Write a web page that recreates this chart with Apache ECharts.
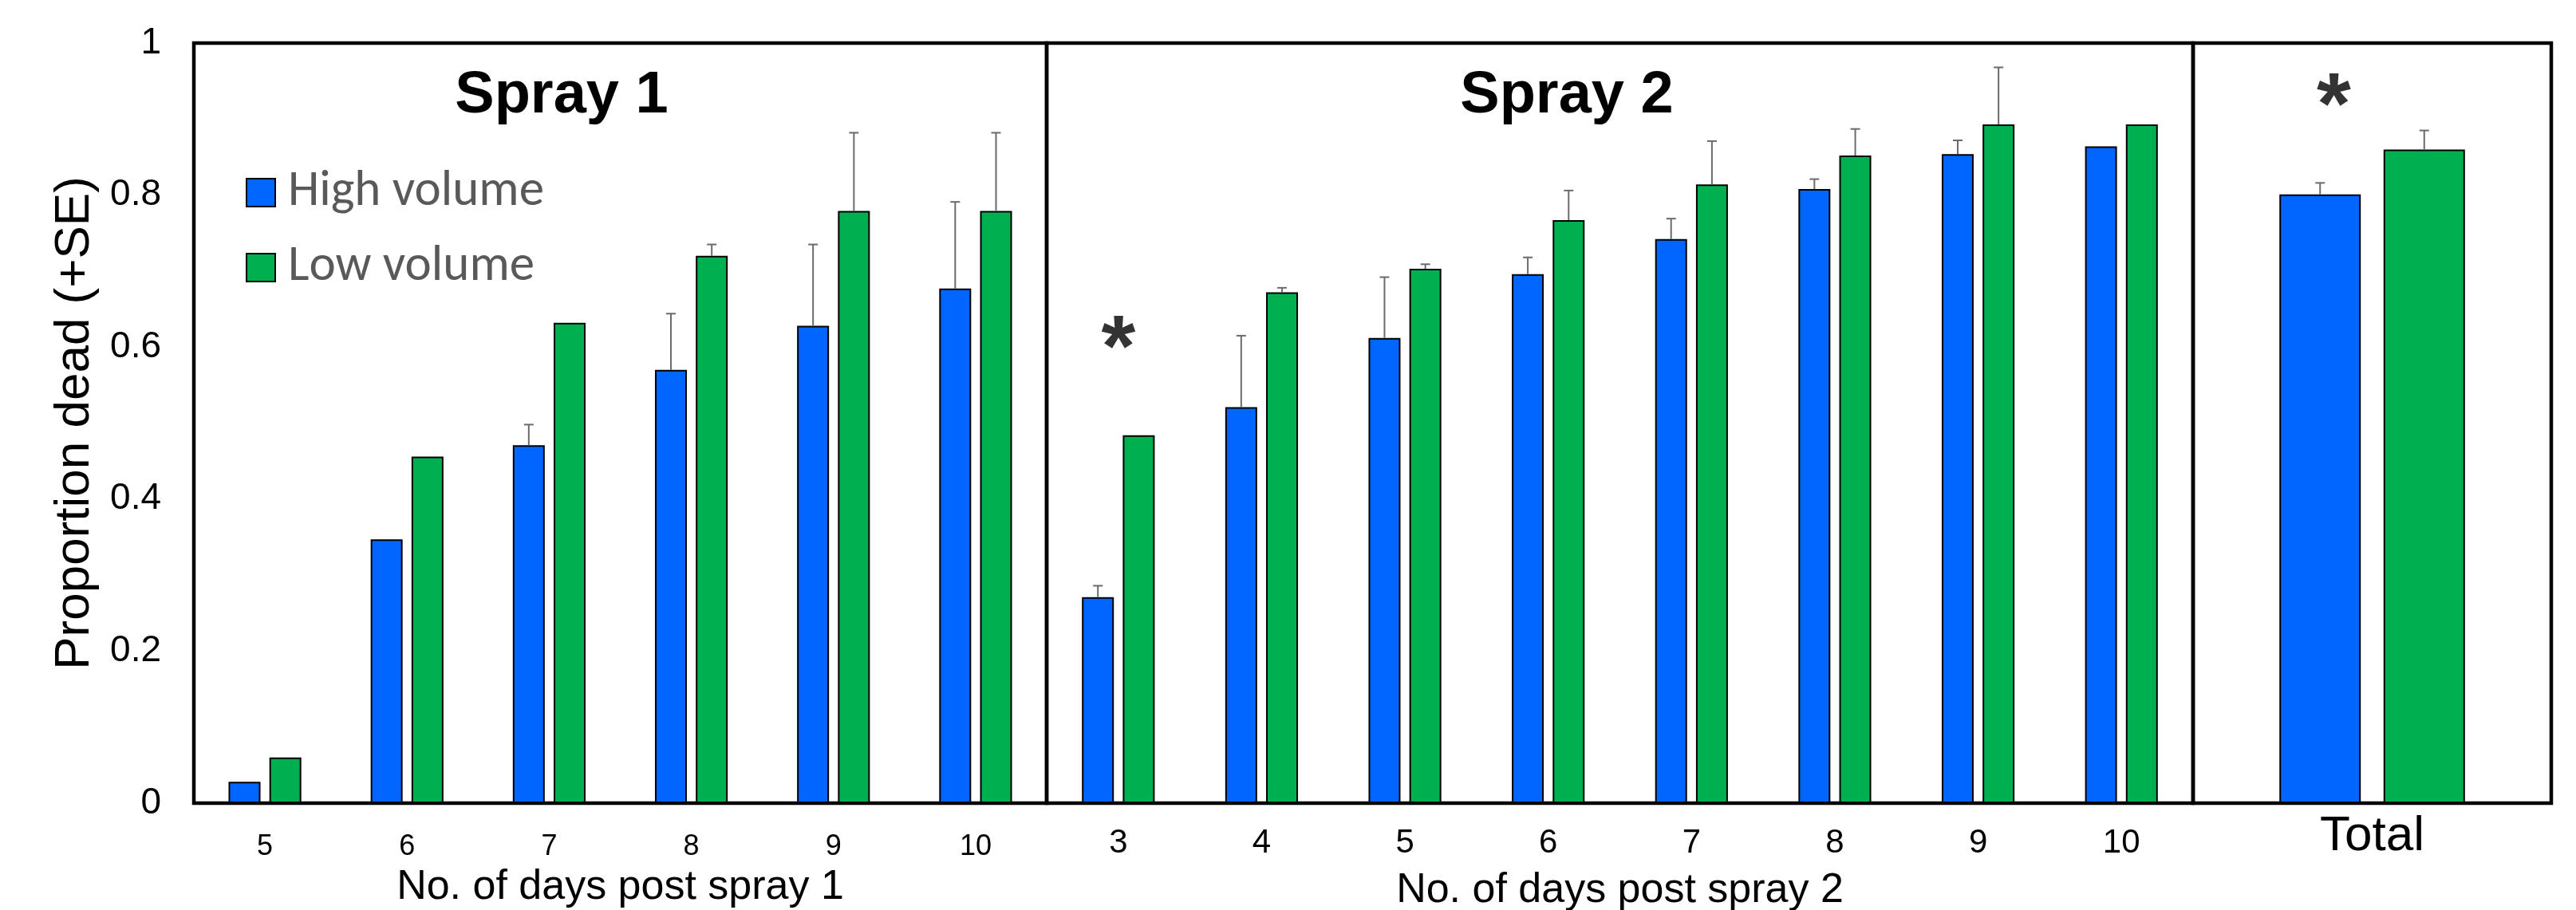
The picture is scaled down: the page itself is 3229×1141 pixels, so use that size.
<!DOCTYPE html>
<html>
<head>
<meta charset="utf-8">
<script src="https://cdn.jsdelivr.net/npm/echarts@6/dist/echarts.min.js"></script>
<style>
  html, body { margin: 0; padding: 0; background: #fff; }
  #chart { width: 3229px; height: 1141px; }
</style>
</head>
<body>
<div id="chart"></div>
<script>
// spray 1
const days1 = ['5', '6', '7', '8', '9', '10']
const high1 = [0.028, 0.347, 0.471, 0.570, 0.628, 0.677]
const low1 = [0.060, 0.456, 0.632, 0.720, 0.779, 0.779]
const high1Se = [0, 0, 0.027, 0.074, 0.107, 0.114]
const low1Se = [0, 0, 0, 0.015, 0.103, 0.103]

// spray 2
const days2 = ['3', '4', '5', '6', '7', '8', '9', '10']
const high2 = [0.271, 0.521, 0.612, 0.696, 0.742, 0.808, 0.854, 0.864]
const low2 = [0.484, 0.672, 0.703, 0.767, 0.814, 0.852, 0.893, 0.893]
const high2Se = [0.015, 0.094, 0.080, 0.022, 0.027, 0.013, 0.018, 0]
const low2Se = [0, 0.006, 0.006, 0.039, 0.057, 0.035, 0.075, 0]

// total
const totalCat = ['Total']
const highTotal = [0.801]
const lowTotal = [0.860]
const highTotalSe = [0.015]
const lowTotalSe = [0.025]

// significance marks
const stars2 = [['3', 0.594]]
const starsTotal = [['Total', 0.913]]

const BLUE = '#0066ff'
const GREEN = '#00b050'
const FONT = 'Liberation Sans, Arial, sans-serif'

const chart = echarts.init(document.getElementById('chart'), null, { renderer: 'canvas' })

// error bar drawn on top of a grouped bar (offset = shift from category centre)
const errorBars = (offset) => (params, api) => {
    const se = api.value(2)
    if (!se) return
    const base = api.coord([api.value(0), api.value(1)])
    const top = api.coord([api.value(0), api.value(1) + se])
    const x = base[0] + offset
    const style = { stroke: '#6b6b6b', lineWidth: 2 }
    return {
        type: 'group',
        children: [
            { type: 'line', shape: { x1: x, y1: base[1], x2: x, y2: top[1] }, style },
            { type: 'line', shape: { x1: x - 6, y1: top[1], x2: x + 6, y2: top[1] }, style }
        ]
    }
}

const toErr = (vals, se) => vals.map((v, i) => [i, v, se[i]])

const barStyle = (color) => ({ color, borderColor: '#000', borderWidth: 2 })

const makeBars = (idx, high, low, highSe, lowSe, width) => {
    const gap = 0.28
    const off = width * (1 + gap) / 2
    return [
        {
            name: 'High volume', type: 'bar', xAxisIndex: idx, yAxisIndex: idx,
            data: high, barWidth: width, barGap: '28%', itemStyle: barStyle(BLUE)
        },
        {
            name: 'Low volume', type: 'bar', xAxisIndex: idx, yAxisIndex: idx,
            data: low, barWidth: width, barGap: '28%', itemStyle: barStyle(GREEN)
        },
        {
            type: 'custom', xAxisIndex: idx, yAxisIndex: idx, z: 5,
            renderItem: errorBars(-off), data: toErr(high, highSe)
        },
        {
            type: 'custom', xAxisIndex: idx, yAxisIndex: idx, z: 5,
            renderItem: errorBars(off), data: toErr(low, lowSe)
        }
    ]
}

const starSeries = (idx, data, dx) => ({
    type: 'scatter', xAxisIndex: idx, yAxisIndex: idx, symbolSize: 0, data,
    label: {
        show: true, position: 'inside', formatter: '*', offset: [dx, 0],
        fontFamily: FONT, fontWeight: 'bold', fontSize: 110, color: '#000'
    }
})

const gridBase = { top: 54, bottom: 134, show: true, borderColor: '#000', borderWidth: 4.5, outerBoundsMode: 'none' }

const yBase = (idx, show) => ({
    type: 'value', gridIndex: idx, min: 0, max: 1, interval: 0.2,
    axisLine: { show: false }, axisTick: { show: false }, splitLine: { show: false },
    axisLabel: { show, fontFamily: FONT, fontSize: 46, color: '#000', margin: 41 }
})

const xBase = (idx, data, fontSize, margin) => ({
    type: 'category', gridIndex: idx, data,
    axisLine: { show: false }, axisTick: { show: false },
    axisLabel: { fontFamily: FONT, fontSize, color: '#000', margin, interval: 0 },
    nameLocation: 'middle',
    nameTextStyle: { fontFamily: FONT, fontSize: 52, color: '#000' }
})

chart.setOption({
    animation: false,
    backgroundColor: '#fff',
    grid: [
        { ...gridBase, left: 243, width: 1069 },
        { ...gridBase, left: 1312, width: 1437 },
        { ...gridBase, left: 2749, width: 449 }
    ],
    xAxis: [
        { ...xBase(0, days1, 36, 37), name: 'No. of days post spray 1', nameGap: 80 },
        { ...xBase(1, days2, 42, 29), name: 'No. of days post spray 2', nameGap: 84 },
        xBase(2, totalCat, 62, 11)
    ],
    yAxis: [
        {
            ...yBase(0, true),
            name: 'Proportion dead (+SE)', nameLocation: 'middle', nameGap: 118, nameRotate: 90,
            nameTextStyle: { fontFamily: FONT, fontSize: 62, color: '#000' }
        },
        yBase(1, false),
        yBase(2, false)
    ],
    legend: {
        orient: 'vertical', left: 308, top: 210, padding: 0,
        data: ['High volume', 'Low volume'],
        itemWidth: 36, itemHeight: 35, itemGap: 31,
        icon: 'rect',
        textStyle: { fontFamily: 'Carlito, Open Sans, sans-serif', fontSize: 63, color: '#595959', padding: [0, 0, 0, 11] }
    },
    graphic: [
        {
            type: 'text', x: 704, y: 121,
            style: { text: 'Spray 1', fontFamily: FONT, fontWeight: 'bold', fontSize: 74, fill: '#000', textAlign: 'center', textVerticalAlign: 'middle' }
        },
        {
            type: 'text', x: 1964, y: 121,
            style: { text: 'Spray 2', fontFamily: FONT, fontWeight: 'bold', fontSize: 74, fill: '#000', textAlign: 'center', textVerticalAlign: 'middle' }
        }
    ],
    series: [
        ...makeBars(0, high1, low1, high1Se, low1Se, 40),
        ...makeBars(1, high2, low2, high2Se, low2Se, 40),
        ...makeBars(2, highTotal, lowTotal, highTotalSe, lowTotalSe, 102),
        starSeries(1, stars2, 0),
        starSeries(2, starsTotal, -48)
    ]
})
</script>
</body>
</html>
